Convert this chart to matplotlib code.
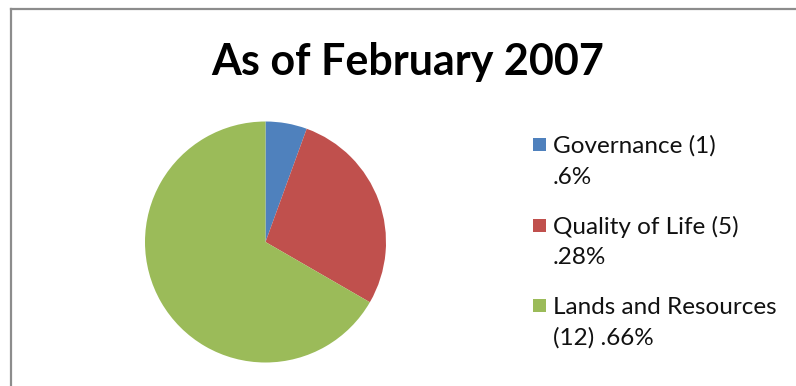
import matplotlib.pyplot as plt
from matplotlib.lines import Line2D
from matplotlib.patches import Rectangle

plt.rcParams['font.family'] = ['Lato', 'DejaVu Sans']

title = "As of February 2007"
categories = ["Governance (1)\n.6%", "Quality of Life (5)\n.28%", "Lands and Resources\n(12) .66%"]
counts = [1, 5, 12]
colors = ["#4F81BD", "#C0504D", "#9BBB59"]

W, H = 796, 386
fig = plt.figure(figsize=(W / 100, H / 100), dpi=100)

# chart frame (only top and left edges fall inside the image)
fig.add_artist(Line2D([11 / W, 11 / W], [0, 1 - 9 / H], color="#8c8c8c", lw=1.6))
fig.add_artist(Line2D([11 / W, 1], [1 - 9 / H, 1 - 9 / H], color="#8c8c8c", lw=1.6))

# pie
cx, cy, r = 265.5, 242, 120.5
ax = fig.add_axes([(cx - r) / W, (H - cy - r) / H, 2 * r / W, 2 * r / H])
ax.pie(counts, colors=colors, startangle=90, counterclock=False, radius=1,
       wedgeprops=dict(linewidth=0))
ax.set_xlim(-1, 1)
ax.set_ylim(-1, 1)
ax.set_aspect("equal")
ax.axis("off")

fig.text(408 / W, 1 - 62 / H, title, ha="center", va="center",
         fontsize=31, fontweight="bold", color="black")

# legend drawn by hand so the swatch sits beside the first line of each label
sq = 13
for i, (lab, col) in enumerate(zip(categories, colors)):
    base = 153 + i * 80.5
    fig.add_artist(Rectangle((533 / W, 1 - (base - 2) / H), sq / W, sq / H,
                             facecolor=col, edgecolor="none",
                             transform=fig.transFigure))
    for j, line in enumerate(lab.split("\n")):
        fig.text(553 / W, 1 - (base + j * 31) / H, line, ha="left",
                 va="baseline", fontsize=17.5, color="#111111")

fig.savefig("out.png", dpi=100)
